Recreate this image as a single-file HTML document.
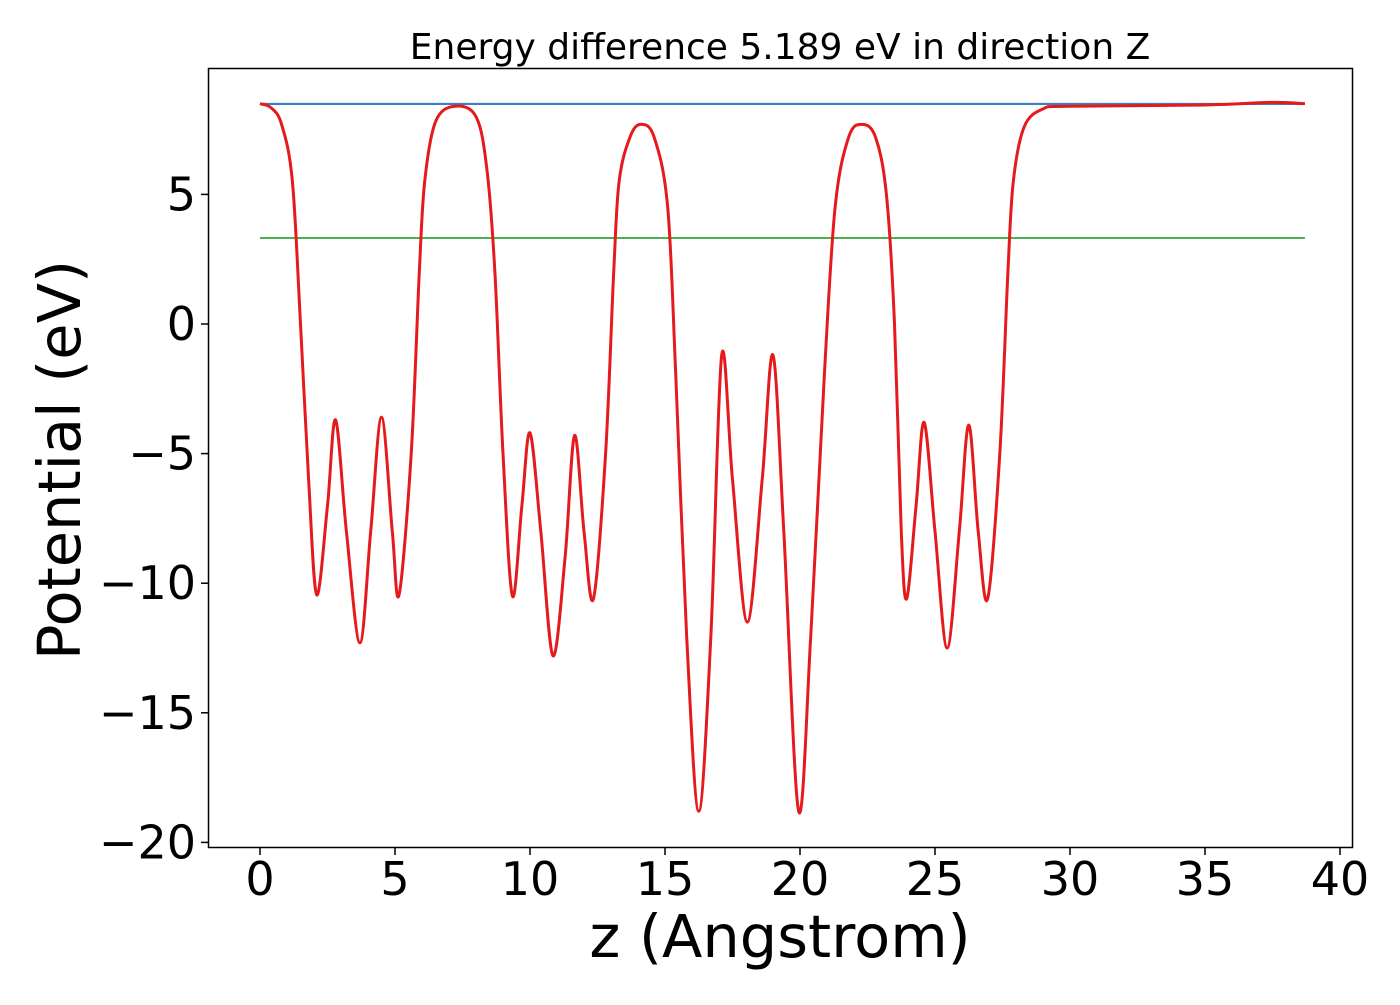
<!DOCTYPE html>
<html><head><meta charset="utf-8"><style>
body{margin:0;background:#fff}
svg text{font-family:"DejaVu Sans","Liberation Sans",sans-serif;fill:#000}
</style></head><body>
<svg id="chart" width="1400" height="1000" xmlns="http://www.w3.org/2000/svg">
<rect x="0" y="0" width="1400" height="1000" fill="#fff"/>
<g id="plot"></g>
<rect x="208.5" y="68.5" width="1144" height="779" fill="none" stroke="#000" stroke-width="1.5"/>
<text x="780" y="59" font-size="36" text-anchor="middle">Energy difference 5.189 eV in direction Z</text>
<text x="780" y="957" font-size="59" text-anchor="middle">z (Angstrom)</text>
<text transform="translate(80,460) rotate(-90)" font-size="59" text-anchor="middle">Potential (eV)</text>
<g id="ticks"></g>
</svg>
<script>
const xTicks=[0,5,10,15,20,25,30,35,40];
const yTicks=[5,0,-5,-10,-15,-20];
const yTickLabels=["5","0","\u22125","\u221210","\u221215","\u221220"];
const vacuumLevel=8.49;
const fermiLevel=3.32;
const zRange=[0,38.7];
const zVals=[0,0.4,0.8,1.2,1.5,1.8,2.1,2.5,2.8,3.2,3.7,4.1,4.5,4.9,5.15,5.6,5.9,6.1,6.5,7.2,8,8.4,8.7,9,9.35,9.7,10,10.4,10.85,11.3,11.65,12,12.35,12.8,13.1,13.3,13.7,14.1,14.6,15.1,15.4,15.8,16.25,16.7,17.1,17.5,18.05,18.6,19.0,19.4,19.95,20.4,20.9,21.3,21.8,22.3,22.8,23.2,23.5,23.75,23.95,24.3,24.6,25.0,25.45,25.9,26.25,26.6,26.95,27.4,27.7,27.9,28.3,29,30,35,37.5,38.7];
const vVals=[8.5,8.35,7.7,5.5,0,-6,-10.45,-7,-3.7,-8,-12.3,-8,-3.6,-8,-10.45,-5,2,5.5,7.8,8.4,8,6,2,-5,-10.5,-7,-4.2,-8,-12.8,-9,-4.3,-8,-10.6,-5,2,5.5,7.2,7.7,7.2,4.5,-2,-12,-18.8,-12,-1.2,-6,-11.5,-6,-1.2,-8,-18.8,-12,-2,4.5,7.2,7.7,7.2,5,0,-8,-10.6,-7,-3.8,-8,-12.5,-8,-3.9,-8,-10.6,-5,2,5.5,7.6,8.3,8.4,8.45,8.55,8.5];
const X=z=>260+27*z;
const Y=v=>324-25.92*v;
const NS="http://www.w3.org/2000/svg";
const plot=document.getElementById('plot'), tk=document.getElementById('ticks');
function mk(t,a,p){const e=document.createElementNS(NS,t);for(const k in a)e.setAttribute(k,a[k]);p.appendChild(e);return e;}
xTicks.forEach(t=>{
  const l=mk('line',{x1:X(t),x2:X(t),y1:848,y2:855,stroke:'#000','stroke-width':1.5},tk);
  
  
  const s=mk('text',{x:X(t),y:895,'font-size':46,'text-anchor':'middle'},tk);s.textContent=t;
  
  
});
yTicks.forEach((t,i)=>{
  const l=mk('line',{x1:201,x2:208,y1:Y(t),y2:Y(t),stroke:'#000','stroke-width':1.5},tk);
  
  
  const s=mk('text',{x:196,y:Y(t)+16,'font-size':46,'text-anchor':'end'},tk);s.textContent=yTickLabels[i];
  
  
});
const vac=mk('line',{x1:X(zRange[0]),x2:X(zRange[1]),y1:Y(vacuumLevel),y2:Y(vacuumLevel),stroke:'#3a7fc1','stroke-width':2.2},plot);


const fer=mk('line',{x1:X(zRange[0]),x2:X(zRange[1]),y1:Y(fermiLevel),y2:Y(fermiLevel),stroke:'#4caf50','stroke-width':2},plot);


const P=zVals.map((z,i)=>[X(z),Y(vVals[i])]);
let d='M'+P[0][0]+','+P[0][1];
for(let i=0;i<P.length-1;i++){
  const p0=P[Math.max(i-1,0)],p1=P[i],p2=P[i+1],p3=P[Math.min(i+2,P.length-1)];
  const c1=[p1[0]+(p2[0]-p0[0])/6,p1[1]+(p2[1]-p0[1])/6];
  const c2=[p2[0]-(p3[0]-p1[0])/6,p2[1]-(p3[1]-p1[1])/6];
  d+=`C${c1[0]},${c1[1]} ${c2[0]},${c2[1]} ${p2[0]},${p2[1]}`;
}
const pot=mk('path',{d:d,fill:'none',stroke:'#e41a1c','stroke-width':3},plot);


</script>
</body></html>
